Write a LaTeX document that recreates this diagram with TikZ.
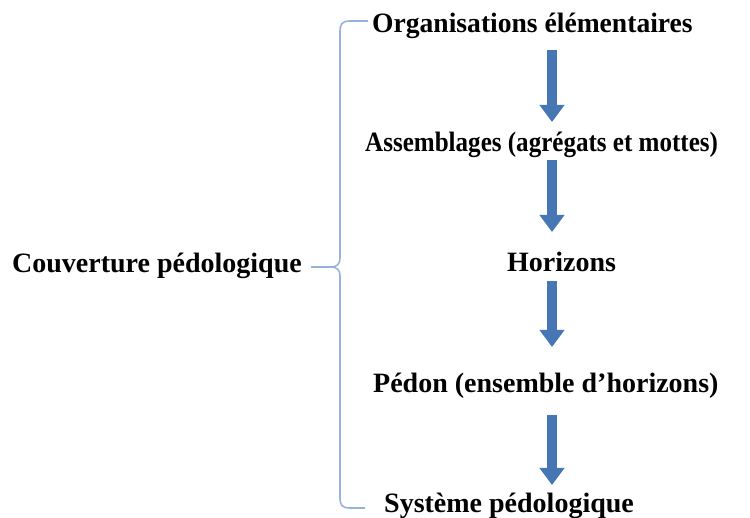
\documentclass[tikz,border=0pt]{standalone}
\usepackage{fontspec}
\usepackage{graphicx}
\setmainfont{Liberation Serif}
\usetikzlibrary{arrows.meta}
\definecolor{arrowblue}{HTML}{4677B4}
\definecolor{bracecol}{HTML}{95B3D7}
\begin{document}
\begin{tikzpicture}[x=1pt,y=-1pt,
  lbl/.style={anchor=base west,inner sep=0pt,font=\fontsize{28}{33}\selectfont\bfseries},
  barrow/.style={draw=arrowblue,line width=10pt,-{Triangle[width=24pt,length=17pt]}},
  bracestyle/.style={draw=bracecol,line width=1.6pt}]
\useasboundingbox (0,0) rectangle (750,518);
\node[lbl] (org) at (372,33) {\scalebox{0.985}[1]{Organisations élémentaires}};
\node[lbl] (ass) at (365,152) {\scalebox{0.895}[1]{Assemblages (agrégats et mottes)}};
\node[lbl] (hor) at (507,272) {Horizons};
\node[lbl] (ped) at (373,393) {Pédon (ensemble d’horizons)};
\node[lbl] (sys) at (384,512) {Système pédologique};
\node[lbl] (cou) at (12,273) {Couverture pédologique};
\coordinate (a1s) at (552,50);  \coordinate (a1e) at (552,122);
\coordinate (a2s) at (552,160); \coordinate (a2e) at (552,232);
\coordinate (a3s) at (552,281); \coordinate (a3e) at (552,347);
\coordinate (a4s) at (552,415); \coordinate (a4e) at (552,485);
\draw[barrow] (a1s) -- (a1e);
\draw[barrow] (a2s) -- (a2e);
\draw[barrow] (a3s) -- (a3e);
\draw[barrow] (a4s) -- (a4e);
\coordinate (bt) at (368,21);
\coordinate (bb) at (365,508);
\coordinate (bm) at (311,267);
\draw[bracestyle] (bt) -- (350,21) .. controls (342,21) and (340,24) .. (340,32)
  -- (340,258) .. controls (340,264) and (337,267) .. (331,267) -- (bm);
\draw[bracestyle] (331,267) .. controls (337,267) and (340,270) .. (340,276)
  -- (340,498) .. controls (340,505) and (342,508) .. (350,508) -- (bb);
\end{tikzpicture}
\end{document}
